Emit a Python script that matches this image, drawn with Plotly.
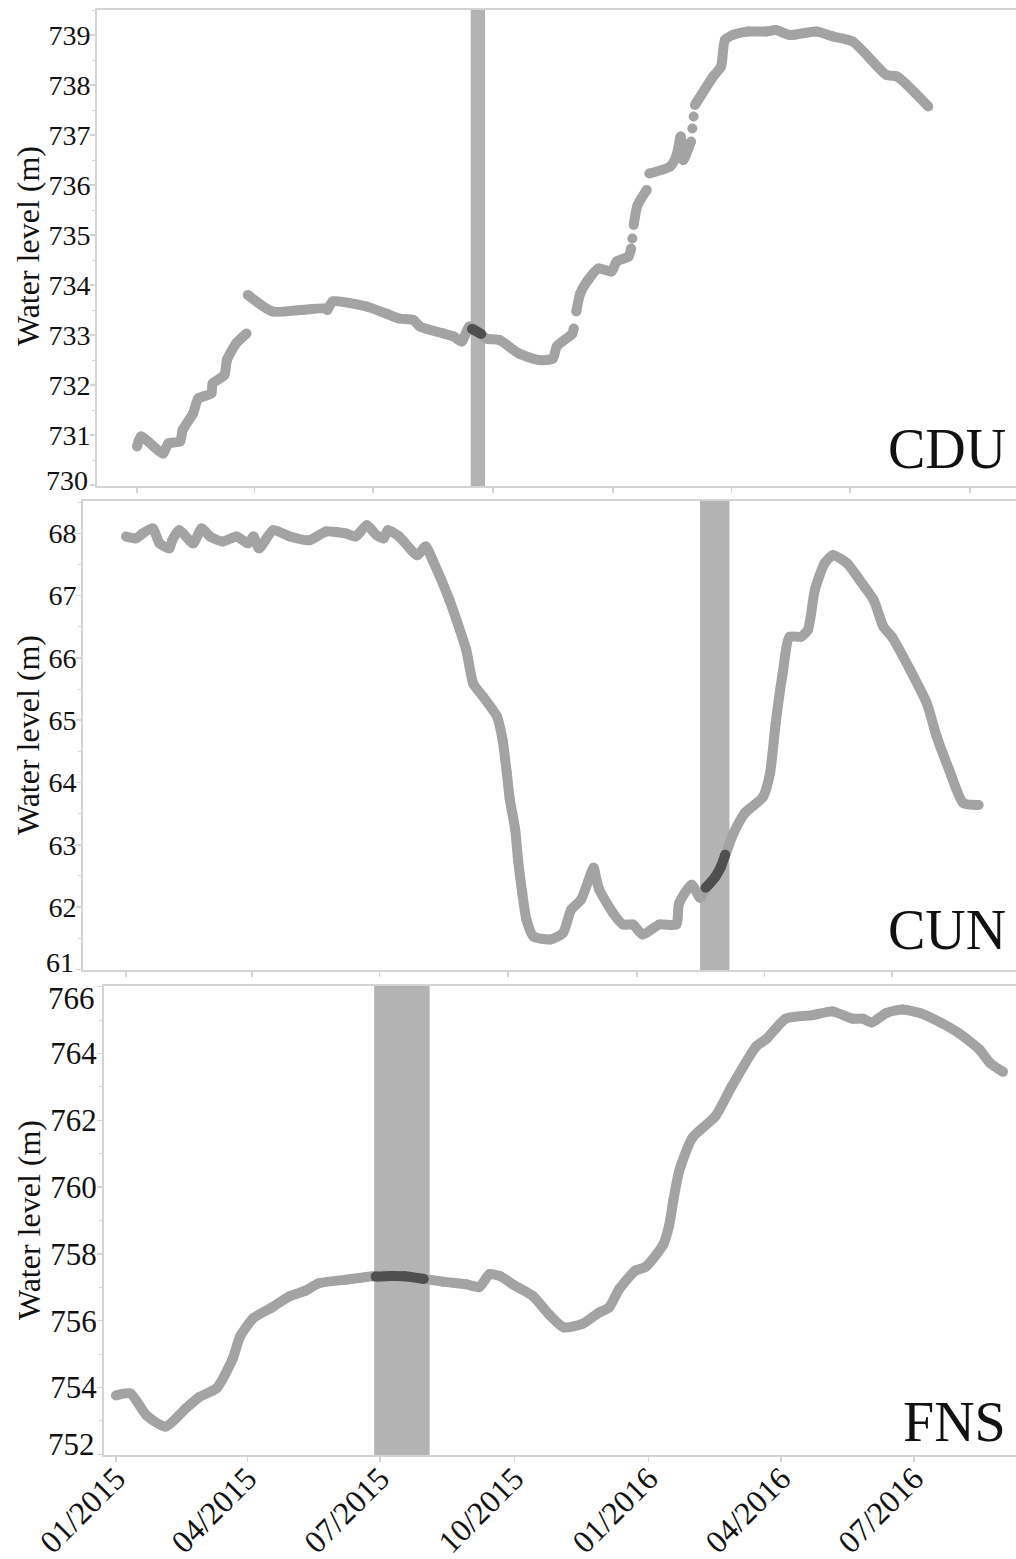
import plotly.graph_objects as go

W, H = 1016, 1559
SERIF = "Liberation Serif, Times New Roman, serif"
GRAY = "#a3a3a3"
DARK = "#4f4f4f"
BAR = "#b3b3b3"
AXIS = "#d4d4d4"
TXT = "#111111"

# ---------------- data ----------------
# CDU (None = gap in record)
cdu_dates = [
    "2015-01-01", "2015-01-04", "2015-01-21", "2015-01-25", "2015-02-03", "2015-02-05",
    "2015-02-13", "2015-02-17", "2015-02-27", "2015-02-28", "2015-03-09", "2015-03-11",
    "2015-03-18", "2015-03-26",
    "2015-03-26 12:00",
    "2015-03-27", "2015-04-15", "2015-05-06", "2015-05-26", "2015-05-27", "2015-05-31",
    "2015-06-26", "2015-07-11", "2015-07-21", "2015-08-01", "2015-08-06", "2015-08-24",
    "2015-09-01", "2015-09-07", "2015-09-13", "2015-09-19", "2015-09-26", "2015-10-06",
    "2015-10-21", "2015-11-05", "2015-11-16", "2015-11-19", "2015-12-01", "2015-12-02",
    "2015-12-03",
    "2015-12-04", "2015-12-07", "2015-12-13", "2015-12-21", "2015-12-31", "2016-01-04",
    "2016-01-13", "2016-01-15",
    "2016-01-15 12:00",
    "2016-01-16",
    "2016-01-16 12:00",
    "2016-01-17", "2016-01-20", "2016-01-27",
    "2016-01-28",
    "2016-01-29", "2016-02-14", "2016-02-19", "2016-02-22", "2016-02-24", "2016-03-01",
    "2016-03-01 12:00",
    "2016-03-02",
    "2016-03-02 12:00",
    "2016-03-03",
    "2016-03-03 12:00",
    "2016-03-04", "2016-03-18", "2016-03-24", "2016-03-27", "2016-04-02", "2016-04-14",
    "2016-04-28", "2016-05-05", "2016-05-16", "2016-06-05", "2016-06-18", "2016-07-03",
    "2016-07-29", "2016-08-06", "2016-08-30",
]
cdu_levels = [
    730.77, 730.97, 730.63, 730.83, 730.87, 731.10,
    731.43, 731.73, 731.83, 732.03, 732.20, 732.50,
    732.83, 733.03,
    None,
    733.80, 733.47, 733.50, 733.53, 733.50, 733.67,
    733.57, 733.43, 733.33, 733.30, 733.17, 733.03,
    732.97, 732.87, 733.17, 733.07, 732.93, 732.90,
    732.63, 732.50, 732.53, 732.77, 733.03, 733.13,
    None,
    733.47, 733.83, 734.10, 734.33, 734.27, 734.47,
    734.57, 734.73,
    None,
    734.93,
    None,
    735.20, 735.60, 735.90,
    None,
    736.23, 736.37, 736.60, 736.97, 736.50, 736.87,
    None,
    737.13,
    None,
    737.37,
    None,
    737.60, 738.17, 738.37, 738.90, 739.00, 739.07,
    739.07, 739.10, 739.00, 739.07, 738.97, 738.87,
    738.20, 738.17, 737.57,
]
cdu_hl_dates = ["2015-09-15", "2015-09-18", "2015-09-22"]
cdu_hl_levels = [733.12, 733.08, 733.02]

# CUN
cun_dates = [
    "2015-01-01", "2015-01-08", "2015-01-13", "2015-01-20", "2015-01-25", "2015-02-01",
    "2015-02-03", "2015-02-08", "2015-02-18", "2015-02-24", "2015-03-02", "2015-03-11",
    "2015-03-21", "2015-03-29", "2015-04-02", "2015-04-06", "2015-04-16", "2015-04-28",
    "2015-05-12", "2015-05-24", "2015-06-07", "2015-06-14", "2015-06-22", "2015-06-29",
    "2015-07-04", "2015-07-07", "2015-07-15", "2015-07-28", "2015-08-03", "2015-08-08",
    "2015-08-20", "2015-09-01", "2015-09-06", "2015-09-13", "2015-09-23", "2015-09-27",
    "2015-09-30", "2015-10-02", "2015-10-06", "2015-10-08", "2015-10-11", "2015-10-14",
    "2015-10-19", "2015-10-31", "2015-11-09", "2015-11-15", "2015-11-22", "2015-12-01",
    "2015-12-03", "2015-12-05", "2015-12-15", "2015-12-22", "2015-12-29", "2016-01-05",
    "2016-01-17", "2016-01-29", "2016-01-31", "2016-02-09", "2016-02-15", "2016-02-19",
    "2016-02-26", "2016-03-04", "2016-03-10", "2016-03-18", "2016-03-31", "2016-04-05",
    "2016-04-09", "2016-04-14", "2016-04-19", "2016-04-27", "2016-05-02", "2016-05-07",
    "2016-05-14", "2016-05-20", "2016-05-30", "2016-06-08", "2016-06-18", "2016-06-25",
    "2016-07-01", "2016-07-14", "2016-07-26", "2016-08-02", "2016-08-11", "2016-08-21",
    "2016-09-01",
]
cun_levels = [
    67.95, 67.92, 68.00, 68.08, 67.84, 67.76,
    67.89, 68.05, 67.84, 68.08, 67.95, 67.87,
    67.95, 67.84, 67.95, 67.76, 68.05, 67.95,
    67.89, 68.03, 68.00, 67.95, 68.13, 67.97,
    67.92, 68.05, 67.95, 67.65, 67.79, 67.57,
    66.93, 66.13, 65.59, 65.38, 65.06, 64.68,
    64.15, 63.75, 63.24, 62.76, 62.23, 61.80,
    61.53, 61.48, 61.58, 61.96, 62.12, 62.63,
    62.44, 62.28, 61.90, 61.72, 61.72, 61.56,
    61.72, 61.72, 62.06, 62.36, 62.15, 62.31,
    62.49, 62.84, 63.19, 63.51, 63.77, 64.15,
    64.95, 65.75, 66.34, 66.34, 66.45, 67.09,
    67.52, 67.65, 67.52, 67.25, 66.93, 66.50,
    66.34, 65.81, 65.27, 64.74, 64.20, 63.67,
    63.64,
]
cun_hl_dates = ["2016-02-19", "2016-02-22", "2016-02-26", "2016-03-01", "2016-03-04"]
cun_hl_levels = [62.31, 62.38, 62.49, 62.65, 62.84]

# FNS
fns_dates = [
    "2015-01-01", "2015-01-11", "2015-01-22", "2015-02-04", "2015-02-18", "2015-02-27",
    "2015-03-11", "2015-03-22", "2015-03-27", "2015-04-05", "2015-04-18", "2015-04-30",
    "2015-05-11", "2015-05-20", "2015-06-08", "2015-06-28", "2015-07-14", "2015-07-30",
    "2015-08-13", "2015-08-29", "2015-09-07", "2015-09-14", "2015-09-21", "2015-10-01",
    "2015-10-14", "2015-10-25", "2015-11-04", "2015-11-17", "2015-11-28", "2015-12-05",
    "2015-12-12", "2015-12-23", "2015-12-30", "2016-01-11", "2016-01-15", "2016-01-18",
    "2016-01-22", "2016-01-31", "2016-02-16", "2016-02-27", "2016-03-15", "2016-03-22",
    "2016-04-04", "2016-04-23", "2016-05-06", "2016-05-20", "2016-05-27", "2016-06-02",
    "2016-06-12", "2016-06-23", "2016-07-05", "2016-07-19", "2016-08-01", "2016-08-15",
    "2016-08-22", "2016-08-31",
]
fns_levels = [
    753.76, 753.82, 753.16, 752.83, 753.38, 753.71,
    753.98, 754.86, 755.52, 756.07, 756.40, 756.73,
    756.90, 757.12, 757.23, 757.34, 757.34, 757.26,
    757.17, 757.09, 757.01, 757.39, 757.34, 757.06,
    756.73, 756.18, 755.80, 755.91, 756.24, 756.40,
    756.95, 757.50, 757.61, 758.27, 758.82, 759.59,
    760.47, 761.47, 762.13, 763.01, 764.22, 764.44,
    765.04, 765.15, 765.26, 765.04, 765.04, 764.93,
    765.21, 765.32, 765.21, 764.93, 764.60, 764.11,
    763.72, 763.45,
]
fns_hl_dates = ["2015-06-28", "2015-07-08", "2015-07-18", "2015-07-31"]
fns_hl_levels = [757.32, 757.34, 757.33, 757.25]

# shaded sampling periods
sites = ["CDU", "CUN", "FNS"]
period_start = ["2015-09-14", "2016-02-15", "2015-06-27"]
period_end = ["2015-09-25", "2016-03-07", "2015-08-04"]

# y tick values per panel
cdu_ticks = [730, 731, 732, 733, 734, 735, 736, 737, 738, 739]
cun_ticks = [61, 62, 63, 64, 65, 66, 67, 68]
fns_ticks = [752, 754, 756, 758, 760, 762, 764, 766]

y_title = "Water level (m)"
tick_format = "%m/%Y"

# ---------------- figure ----------------
fig = go.Figure()

series = [
    (cdu_dates, cdu_levels, cdu_hl_dates, cdu_hl_levels, cdu_ticks),
    (cun_dates, cun_levels, cun_hl_dates, cun_hl_levels, cun_ticks),
    (fns_dates, fns_levels, fns_hl_dates, fns_hl_levels, fns_ticks),
]

def frac_y(top, bottom):
    return [1 - bottom / H, 1 - top / H]

# edge labels are nudged inward (as in the original) -> drawn as annotations
panel_cfg = [
    dict(xdom=[97 / W, 1.0], ydom=frac_y(10, 486), axis_x=97,
         xr=["2014-12-01 07:00", "2016-11-05 07:00"], yr=[729.98, 739.5],
         mdt=0.5, tfs=28, title_xy=(28, 246), lab_y=449,
         edge=[(730, 480)]),
    dict(xdom=[83 / W, 1.0], ydom=frac_y(501, 970), axis_x=83,
         xr=["2014-12-01 07:00", "2016-09-27 16:00"], yr=[60.99, 68.52],
         mdt=0.5, tfs=28, title_xy=(28, 735), lab_y=930,
         edge=[(61, 962)]),
    dict(xdom=[104 / W, 1.0], ydom=frac_y(986, 1455), axis_x=104,
         xr=["2014-12-23 19:00", "2016-09-08 22:00"], yr=[751.98, 766.02],
         mdt=1, tfs=31, title_xy=(29, 1220), lab_y=1422,
         edge=[(766, 998), (752, 1444)]),
]

annotations = []
shapes = []
for i, ((d, v, hd, hv, tv), cfg) in enumerate(zip(series, panel_cfg)):
    n = "" if i == 0 else str(i + 1)
    xa, ya = "x" + n, "y" + n
    fig.add_trace(go.Scatter(
        x=d, y=v, mode="lines+markers", xaxis=xa, yaxis=ya,
        line=dict(color=GRAY, width=10, shape="spline", smoothing=0.6),
        marker=dict(color=GRAY, size=10),
        connectgaps=False, showlegend=False, hoverinfo="skip"))
    fig.add_trace(go.Scatter(
        x=hd, y=hv, mode="lines+markers", xaxis=xa, yaxis=ya,
        line=dict(color=DARK, width=10, shape="spline", smoothing=0.6),
        marker=dict(color=DARK, size=10),
        showlegend=False, hoverinfo="skip"))

    shapes.append(dict(type="rect", xref=xa, yref=ya + " domain",
                       x0=period_start[i], x1=period_end[i], y0=0, y1=1,
                       fillcolor=BAR, line=dict(width=0), layer="below"))

    edge_vals = [e[0] for e in cfg["edge"]]
    ticktext = ["" if t in edge_vals else str(t) for t in tv]

    last = i == 2
    fig.update_layout(**{
        "xaxis" + n: dict(
            domain=cfg["xdom"], anchor=ya, type="date", range=cfg["xr"],
            tick0="2015-01-01", dtick="M3", tickformat=tick_format,
            ticks="outside", ticklen=5, tickwidth=1.5, tickcolor=AXIS,
            showline=True, linecolor=AXIS, linewidth=2, mirror=True,
            showgrid=False, zeroline=False, showticklabels=last,
            tickangle=-45, ticklabelstandoff=-15,
            tickfont=dict(family=SERIF, size=32, color=TXT),
            automargin=False, fixedrange=True),
        "yaxis" + n: dict(
            domain=cfg["ydom"], anchor=xa, range=cfg["yr"],
            tickmode="array", tickvals=tv, ticktext=ticktext,
            ticks="outside", ticklen=5, tickwidth=1.5, tickcolor=AXIS,
            ticklabelstandoff=-6,
            minor=dict(dtick=cfg["mdt"], tick0=0, ticks="outside", ticklen=3,
                       tickcolor=AXIS, tickwidth=1, showgrid=False),
            showline=True, linecolor=AXIS, linewidth=2, mirror=False,
            showgrid=False, zeroline=False,
            tickfont=dict(family=SERIF, size=cfg["tfs"], color=TXT),
            automargin=False, fixedrange=True),
    })

    for val, ypix in cfg["edge"]:
        annotations.append(dict(
            text=str(val), xref="paper", yref="paper",
            x=(cfg["axis_x"] - 7) / W, y=1 - ypix / H,
            xanchor="right", yanchor="middle", showarrow=False,
            font=dict(family=SERIF, size=cfg["tfs"], color=TXT)))

    tx, ty = cfg["title_xy"]
    annotations.append(dict(
        text=y_title, xref="paper", yref="paper", x=tx / W, y=1 - ty / H,
        xanchor="center", yanchor="middle", textangle=-90, showarrow=False,
        font=dict(family=SERIF, size=32, color=TXT)))
    annotations.append(dict(
        text=sites[i], xref="paper", yref="paper", x=1008 / W, y=1 - cfg["lab_y"] / H,
        xanchor="right", yanchor="middle", showarrow=False,
        font=dict(family=SERIF, size=56, color=TXT)))

fig.update_layout(
    width=W, height=H, autosize=False,
    margin=dict(l=0, r=0, t=0, b=0, pad=0),
    paper_bgcolor="white", plot_bgcolor="white",
    showlegend=False, template="none",
    annotations=annotations, shapes=shapes,
)

fig.write_html("out.html",
               config={"displayModeBar": False, "staticPlot": True},
               post_script="document.body.style.margin='0';document.body.style.overflow='hidden';")
